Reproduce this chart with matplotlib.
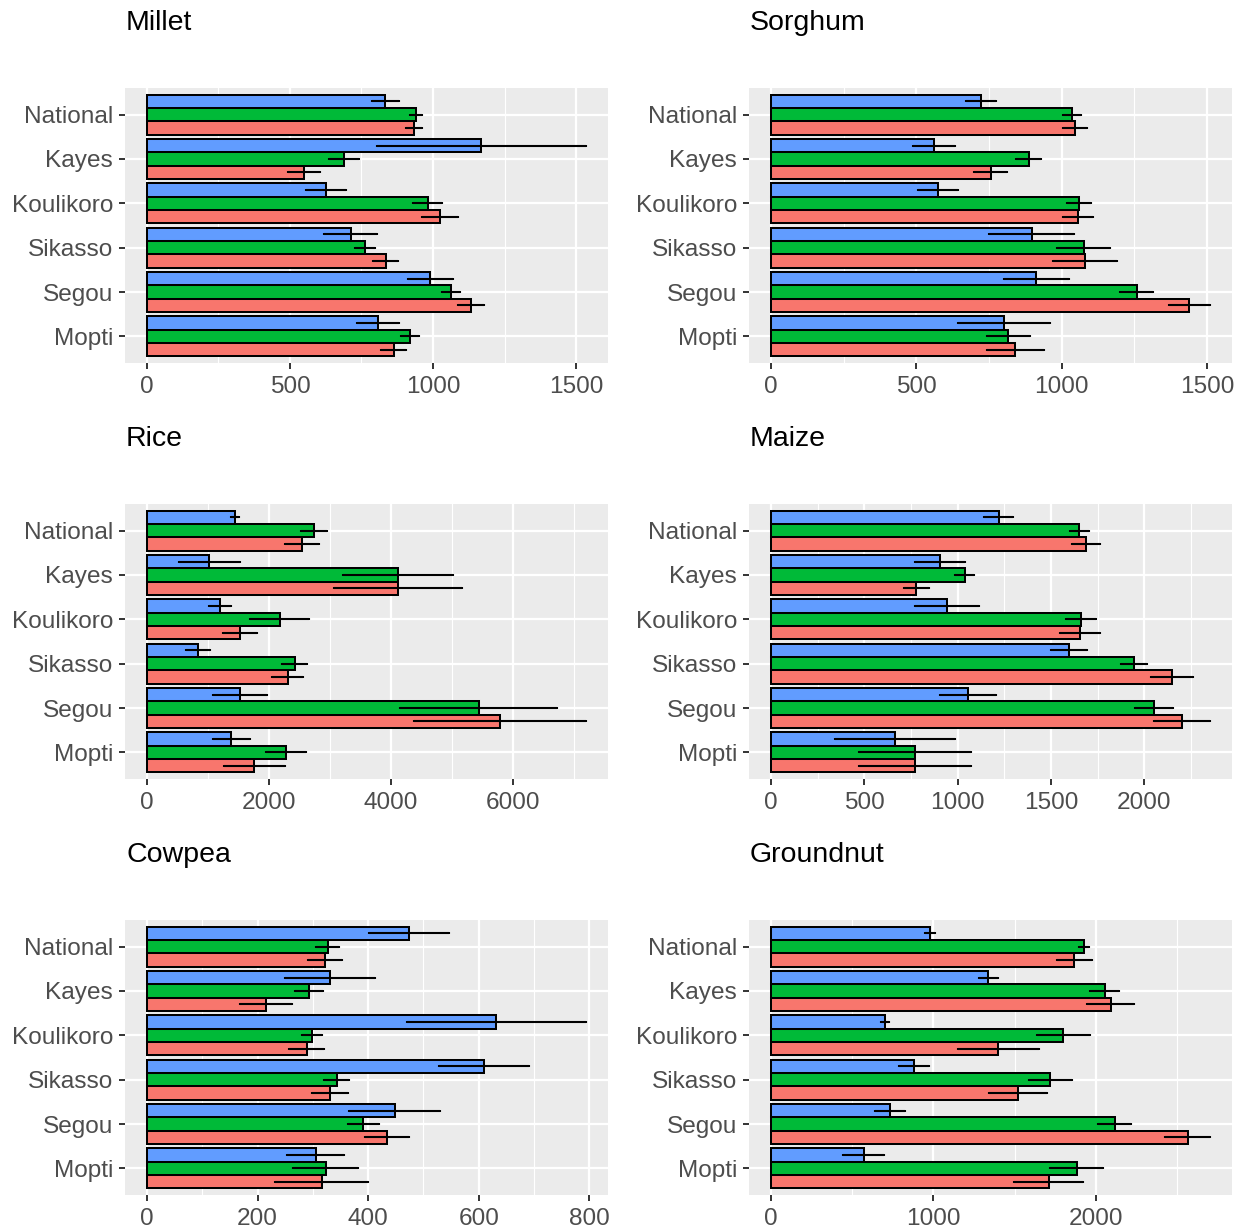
import numpy as np
import matplotlib
matplotlib.use("Agg")
import matplotlib.pyplot as plt
from matplotlib.ticker import MultipleLocator

plt.rcParams['font.family'] = ['Liberation Sans', 'DejaVu Sans']

regions = ["National", "Kayes", "Koulikoro", "Sikasso", "Segou", "Mopti"]
fill_colors = ["#F8766D", "#00BA38", "#619CFF"]

# rows: fill level 1 (red), 2 (green), 3 (blue); columns follow `regions`
millet_mean = [[935, 549, 1025, 834, 1133, 862],
               [940, 688, 981, 762, 1064, 919],
               [833, 1169, 626, 712, 991, 809]]
millet_se = [[28, 56, 64, 44, 45, 44],
             [20, 52, 50, 36, 31, 31],
             [47, 366, 69, 92, 78, 73]]

sorghum_mean = [[1046, 756, 1057, 1080, 1440, 841],
                [1035, 887, 1060, 1076, 1258, 817],
                [722, 561, 575, 897, 913, 802]]
sorghum_se = [[40, 58, 51, 111, 71, 98],
              [31, 43, 42, 91, 57, 74],
              [51, 73, 69, 146, 112, 159]]

rice_mean = [[2547, 4118, 1533, 2307, 5793, 1762],
             [2738, 4118, 2176, 2422, 5438, 2285],
             [1445, 1025, 1200, 835, 1527, 1385]]
rice_se = [[281, 1056, 278, 257, 1408, 505],
           [213, 903, 486, 208, 1285, 325],
           [64, 496, 177, 194, 448, 306]]

maize_mean = [[1689, 779, 1655, 2148, 2201, 774],
              [1651, 1037, 1660, 1943, 2050, 774],
              [1219, 904, 941, 1598, 1055, 664]]
maize_se = [[74, 67, 108, 111, 151, 300],
            [50, 50, 82, 70, 102, 300],
            [77, 134, 172, 96, 148, 322]]

cowpea_mean = [[322, 216, 289, 331, 434, 316],
               [327, 293, 299, 343, 391, 323],
               [474, 331, 632, 610, 448, 305]]
cowpea_se = [[30, 47, 32, 32, 40, 84],
             [21, 25, 18, 23, 28, 59],
             [73, 81, 162, 81, 82, 52]]

groundnut_mean = [[1867, 2090, 1399, 1520, 2564, 1710],
                  [1926, 2053, 1800, 1720, 2116, 1881],
                  [979, 1338, 703, 880, 731, 570]]
groundnut_se = [[107, 145, 250, 181, 138, 213],
                [33, 90, 162, 133, 101, 161],
                [31, 60, 23, 90, 91, 127]]

panels = [
    ("Millet", millet_mean, millet_se, 500),
    ("Sorghum", sorghum_mean, sorghum_se, 500),
    ("Rice", rice_mean, rice_se, 2000),
    ("Maize", maize_mean, maize_se, 500),
    ("Cowpea", cowpea_mean, cowpea_se, 200),
    ("Groundnut", groundnut_mean, groundnut_se, 1000),
]

W, H = 1249, 1230
col_left = [125, 749]
row_top = [88, 504, 920]
pw, ph = 483, 275

fig = plt.figure(figsize=(W / 100, H / 100), dpi=100)
fig.patch.set_facecolor("white")

ypos = np.arange(len(regions))[::-1] + 1.0

for i, (title, means, ses, step) in enumerate(panels):
    left = col_left[i % 2]
    top = row_top[i // 2]
    ax = fig.add_axes([left / W, 1 - (top + ph) / H, pw / W, ph / H])
    ax.set_facecolor("#EBEBEB")

    for k in range(3):
        yk = ypos + (k - 1) * 0.3
        ax.barh(yk, means[k], height=0.3, color=fill_colors[k],
                edgecolor="black", linewidth=1.45, zorder=2)
        ax.errorbar(means[k], yk, xerr=ses[k], fmt="none", ecolor="black",
                    elinewidth=1.5, capsize=0.7, capthick=1.5, zorder=3)

    top_val = max(np.max(np.array(means) + np.array(ses)), 0)
    ax.set_xlim(-0.05 * top_val, 1.05 * top_val)
    ax.set_ylim(0.4, 6.6)

    ax.xaxis.set_major_locator(MultipleLocator(step))
    ax.xaxis.set_minor_locator(MultipleLocator(step / 2))
    ax.set_yticks(ypos)
    ax.set_yticklabels(regions)

    ax.grid(which="major", color="white", linewidth=1.6, zorder=0)
    ax.grid(which="minor", axis="x", color="white", linewidth=0.8, zorder=0)
    ax.set_axisbelow(True)

    for s in ax.spines.values():
        s.set_visible(False)
    ax.tick_params(which="major", length=4.5, width=1.4, color="#333333",
                   labelcolor="#4D4D4D", labelsize=17.6)
    ax.tick_params(axis="y", pad=4)
    ax.tick_params(axis="x", pad=5)
    ax.tick_params(which="minor", length=0)

    fig.text((left + 1) / W, 1 - (top - 58) / H, title, fontsize=20.5,
             color="black", va="baseline", ha="left")

fig.savefig("out.png", dpi=100)
